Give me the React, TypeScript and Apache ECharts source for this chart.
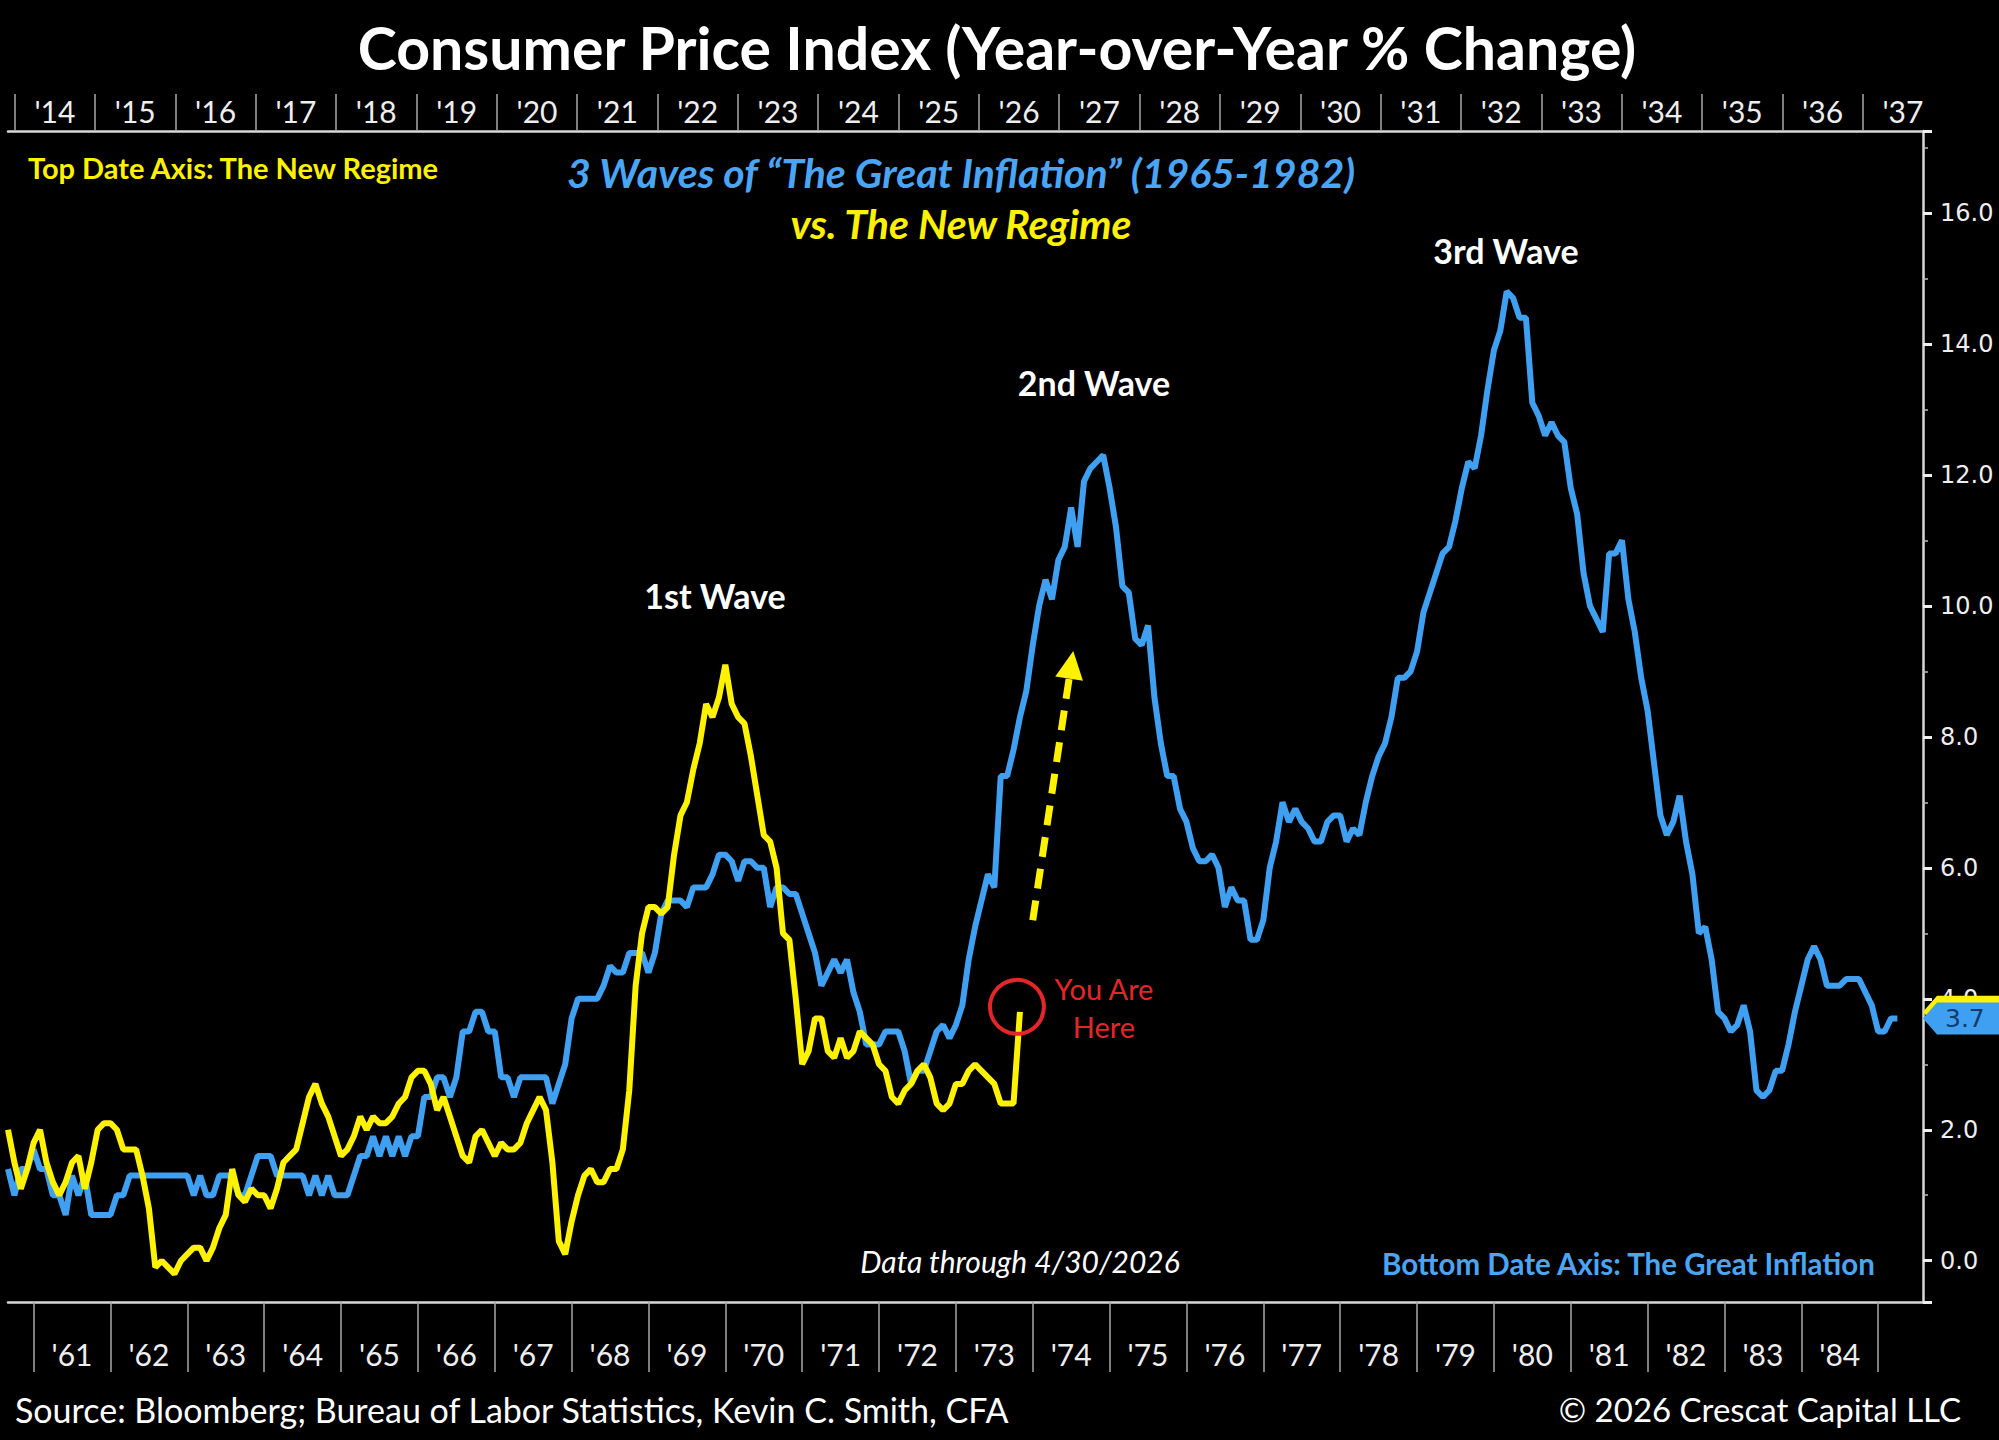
import React, { useEffect, useRef } from "react";
import * as echarts from "echarts";

// ---------- categories (months) ----------
function monthList(year: number, month: number, count: number): string[] {
  const out: string[] = [];
  for (let i = 0; i < count; i++) {
    const m = month - 1 + i;
    out.push(`${year + Math.floor(m / 12)}-${String((m % 12) + 1).padStart(2, "0")}`);
  }
  return out;
}
// bottom axis: The Great Inflation (Sep 1960 .. Aug 1985)
const bottomMonths = monthList(1960, 9, 300);
// top axis tick labels: The New Regime (Dec 2013 .. Oct 2037)
const topMonths = monthList(2013, 12, 287);
// hidden axis carrying the New Regime series (shifted 52y5m vs. bottom axis)
const regimeMonths = monthList(2013, 2, 300);

// ---------- data: CPI YoY % (Great Inflation, from Sep 1960) ----------
const inflation1960s = [
  1.4, 1.0, 1.4, 1.4,
  1.7, 1.4, 1.4, 1.0, 1.0, 0.7, 1.3, 1.0, 1.3, 0.7, 0.7, 0.7,
  0.7, 1.0, 1.0, 1.3, 1.3, 1.3, 1.3, 1.3, 1.3, 1.3, 1.3, 1.3,
  1.3, 1.0, 1.3, 1.0, 1.0, 1.3, 1.3, 1.3, 1.0, 1.0, 1.3, 1.6,
  1.6, 1.6, 1.3, 1.3, 1.3, 1.3, 1.3, 1.0, 1.3, 1.0, 1.3, 1.0,
  1.0, 1.0, 1.3, 1.6, 1.6, 1.9, 1.6, 1.9, 1.6, 1.9, 1.6, 1.9,
  1.9, 2.5, 2.5, 2.8, 2.8, 2.5, 2.8, 3.5, 3.5, 3.8, 3.8, 3.5,
  3.5, 2.8, 2.8, 2.5, 2.8, 2.8, 2.8, 2.8, 2.8, 2.4, 2.7, 3.0,
  3.7, 4.0, 4.0, 4.0, 4.0, 4.2, 4.5, 4.4, 4.4, 4.7, 4.7, 4.7,
  4.4, 4.7, 5.3, 5.5, 5.5, 5.5, 5.4, 5.7, 5.7, 5.7, 5.9, 6.2,
];
const inflation1970s = [
  6.2, 6.1, 5.8, 6.1, 6.1, 6.0, 6.0, 5.4, 5.7, 5.7, 5.6, 5.6,
  5.3, 5.0, 4.7, 4.2, 4.4, 4.6, 4.4, 4.6, 4.1, 3.8, 3.3, 3.3,
  3.3, 3.5, 3.5, 3.5, 3.2, 2.7, 2.9, 2.9, 3.2, 3.5, 3.6, 3.4,
  3.6, 3.9, 4.6, 5.1, 5.5, 5.9, 5.7, 7.4, 7.4, 7.8, 8.3, 8.7,
  9.4, 10.0, 10.4, 10.1, 10.7, 10.9, 11.5, 10.9, 11.9, 12.1, 12.2, 12.3,
  11.8, 11.2, 10.3, 10.2, 9.5, 9.4, 9.7, 8.6, 7.9, 7.4, 7.4, 6.9,
  6.7, 6.3, 6.1, 6.1, 6.2, 6.0, 5.4, 5.7, 5.5, 5.5, 4.9, 4.9,
  5.2, 6.0, 6.4, 7.0, 6.7, 6.9, 6.7, 6.6, 6.4, 6.4, 6.7, 6.8,
  6.8, 6.4, 6.6, 6.5, 7.0, 7.4, 7.7, 7.9, 8.3, 8.9, 8.9, 9.0,
  9.3, 9.9, 10.2, 10.5, 10.8, 10.9, 11.3, 11.8, 12.2, 12.1, 12.6, 13.3,
];
const inflation1980s = [
  13.9, 14.2, 14.8, 14.7, 14.4, 14.4, 13.1, 12.9, 12.6, 12.8, 12.6, 12.5,
  11.8, 11.4, 10.5, 10.0, 9.8, 9.6, 10.8, 10.8, 11.0, 10.1, 9.6, 8.9,
  8.4, 7.6, 6.8, 6.5, 6.7, 7.1, 6.4, 5.9, 5.0, 5.1, 4.6, 3.8,
  3.7, 3.5, 3.6, 3.9, 3.5, 2.6, 2.5, 2.6, 2.9, 2.9, 3.3, 3.8,
  4.2, 4.6, 4.8, 4.6, 4.2, 4.2, 4.2, 4.3, 4.3, 4.3, 4.1, 3.9,
  3.5, 3.5, 3.7, 3.7,
];
// ---------- data: CPI YoY % (New Regime, from Feb 2013) ----------
const regime2013to2019 = [
  2.0, 1.5, 1.1, 1.4, 1.8, 2.0, 1.5, 1.2, 1.0, 1.2, 1.5,
  1.6, 1.1, 1.5, 2.0, 2.1, 2.1, 2.0, 1.7, 1.7, 1.7, 1.3, 0.8,
  -0.1, 0.0, -0.1, -0.2, 0.0, 0.1, 0.2, 0.2, 0.0, 0.2, 0.5, 0.7,
  1.4, 1.0, 0.9, 1.1, 1.0, 1.0, 0.8, 1.1, 1.5, 1.6, 1.7, 2.1,
  2.5, 2.7, 2.4, 2.2, 1.9, 1.6, 1.7, 1.9, 2.2, 2.0, 2.2, 2.1,
  2.1, 2.2, 2.4, 2.5, 2.8, 2.9, 2.9, 2.7, 2.3, 2.5, 2.2, 1.9,
  1.6, 1.5, 1.9, 2.0, 1.8, 1.6, 1.8, 1.7, 1.7, 1.8, 2.1, 2.3,
];
const regime2020to2026 = [
  2.5, 2.3, 1.5, 0.3, 0.1, 0.6, 1.0, 1.3, 1.4, 1.2, 1.2, 1.4,
  1.4, 1.7, 2.6, 4.2, 5.0, 5.4, 5.4, 5.3, 5.4, 6.2, 6.8, 7.0,
  7.5, 7.9, 8.5, 8.3, 8.6, 9.1, 8.5, 8.3, 8.2, 7.7, 7.1, 6.5,
  6.4, 6.0, 5.0, 4.9, 4.0, 3.0, 3.2, 3.7, 3.7, 3.2, 3.1, 3.4,
  3.1, 3.2, 3.5, 3.4, 3.3, 3.0, 2.9, 2.5, 2.4, 2.6, 2.7, 2.9,
  3.0, 2.8, 2.4, 2.3, 2.4, 2.7, 2.7, 2.9, 3.0, 2.9, 2.8, 2.7,
  2.4, 2.4, 2.4, 3.8,
];
const greatInflation = [...inflation1960s, ...inflation1970s, ...inflation1980s];
const newRegime = [...regime2013to2019, ...regime2020to2026];

// arrow annotation (New Regime axis coordinates)
const arrowStart: [string, number] = ["2026-06", 5.2];
const arrowEnd: [string, number] = ["2026-12", 9.1];

const BLUE = "#3fa0f2";
const YELLOW = "#fff200";
const RED = "#e3262a";
const GRID = { left: 8, right: 76, top: 131, bottom: 138 };

const isJan = (_i: number, v: string) => v.endsWith("-01");
const labelAt = (count: number) => (i: number, v: string) => v.endsWith("-07") && i <= count - 4;
const yy = (v: string) => "'" + v.slice(2, 4);

function textEl(text: string, x: number, y: number, font: string, fill: string, align = "center") {
  return {
    type: "text",
    z: 50,
    style: {
      text, x, y, font, fill,
      align, textAlign: align,
      verticalAlign: "middle", textVerticalAlign: "middle",
    },
  };
}

export default function App() {
  const ref = useRef<HTMLDivElement>(null);
  useEffect(() => {
    document.body.style.margin = "0";
    document.body.style.background = "#000";
    const chart = echarts.init(ref.current!, null, { renderer: "svg" });
    const axisLabelBase = { color: "#eeeeee", fontSize: 30, fontFamily: "Lato" };
    chart.setOption({
      animation: false,
      backgroundColor: "#000",
      grid: { ...GRID, containLabel: false },
      xAxis: [
        {
          type: "category", position: "bottom", data: bottomMonths, boundaryGap: false,
          axisLine: { show: true, onZero: false, lineStyle: { color: "#d8d8d8", width: 2.5 } },
          axisTick: { show: true, interval: isJan, length: 70, lineStyle: { color: "#a8a8a8", width: 1.5 } },
          axisLabel: { ...axisLabelBase, interval: labelAt(bottomMonths.length), formatter: yy, margin: 37 },
          splitLine: { show: false },
        },
        {
          type: "category", position: "top", data: topMonths, boundaryGap: false,
          axisLine: { show: true, onZero: false, lineStyle: { color: "#d8d8d8", width: 2.5 } },
          axisTick: { show: true, interval: isJan, length: 37, lineStyle: { color: "#a8a8a8", width: 1.5 } },
          axisLabel: { ...axisLabelBase, interval: labelAt(topMonths.length), formatter: yy, margin: 5 },
          splitLine: { show: false },
        },
        {
          type: "category", position: "top", data: regimeMonths, boundaryGap: false, show: false,
          axisLine: { onZero: false },
        },
      ],
      yAxis: {
        type: "value", position: "right", min: -0.63, max: 17.25, splitNumber: 9,
        axisLine: { show: true, lineStyle: { color: "#d8d8d8", width: 2.5 } },
        axisTick: { show: true, length: 9, lineStyle: { color: "#eeeeee", width: 3 } },
        minorTick: { show: true, splitNumber: 2, length: 5, lineStyle: { color: "#bbbbbb", width: 1.5 } },
        axisLabel: {
          color: "#eeeeee", fontSize: 24, fontFamily: "DejaVu Sans", margin: 17,
          showMinLabel: false, showMaxLabel: false,
          formatter: (v: number) => {
            const r = Math.round(v);
            return Math.abs(v - r) < 1e-6 && r % 2 === 0 ? r.toFixed(1) : "";
          },
        },
        splitLine: { show: false },
      },
      series: [
        {
          type: "line", name: "The Great Inflation", xAxisIndex: 0, yAxisIndex: 0,
          data: greatInflation, showSymbol: false, z: 2,
          lineStyle: { color: BLUE, width: 6 }, itemStyle: { color: BLUE },
        },
        {
          type: "line", name: "The New Regime", xAxisIndex: 2, yAxisIndex: 0,
          data: newRegime, showSymbol: false, z: 3,
          lineStyle: { color: YELLOW, width: 6 }, itemStyle: { color: YELLOW },
          markPoint: {
            silent: true, symbol: "circle", symbolSize: 54, symbolOffset: [-3, -5],
            itemStyle: { color: "rgba(0,0,0,0)", borderColor: RED, borderWidth: 4 },
            label: { show: false },
            data: [{ coord: [regimeMonths[newRegime.length - 1], newRegime[newRegime.length - 1]] }],
          },
          markLine: {
            silent: true, animation: false, symbol: ["none", "triangle"], symbolSize: [28, 28],
            lineStyle: { color: YELLOW, width: 7, type: [20, 12] },
            label: { show: false },
            data: [[{ coord: arrowStart }, { coord: arrowEnd }]],
          },
        },
      ],
    });

    const axisX = chart.getWidth() - GRID.right;
    const W = chart.getWidth();
    const lastBlue = greatInflation[greatInflation.length - 1];
    const lastYellow = newRegime[newRegime.length - 1];
    const yb = chart.convertToPixel({ yAxisIndex: 0 }, lastBlue) as number;
    const yy2 = chart.convertToPixel({ yAxisIndex: 0 }, lastYellow) as number;
    const flag = (y: number, fill: string, z: number) => ({
      type: "polygon", z,
      shape: { points: [[axisX, y], [axisX + 14, y - 16], [W, y - 16], [W, y + 16], [axisX + 14, y + 16]] },
      style: { fill },
    });

    chart.setOption({
      graphic: [
        textEl("Consumer Price Index (Year-over-Year % Change)", 997, 47, "bold 59px Lato", "#ffffff"),
        textEl("Top Date Axis: The New Regime", 28, 167, "bold 29px Lato", YELLOW, "left"),
        textEl("3 Waves of \u201CThe Great Inflation\u201D (1965-1982)", 961, 172, "italic bold 41px Lato", "#4aa5f5"),
        textEl("vs. The New Regime", 961, 223, "italic bold 41px Lato", YELLOW),
        textEl("3rd Wave", 1506, 250, "bold 34px Lato", "#ffffff"),
        textEl("2nd Wave", 1094, 382, "bold 34px Lato", "#ffffff"),
        textEl("1st Wave", 715, 595, "bold 34px Lato", "#ffffff"),
        textEl("You Are", 1104, 988, "29px Lato", RED),
        textEl("Here", 1104, 1026, "29px Lato", RED),
        textEl("Data through 4/30/2026", 1020, 1261, "italic 30px Lato", "#ffffff"),
        textEl("Bottom Date Axis: The Great Inflation", 1382, 1263, "bold 29.5px Lato", "#4aa5f5", "left"),
        textEl("Source: Bloomberg; Bureau of Labor Statistics, Kevin C. Smith, CFA", 15, 1409, "34px Lato", "#ffffff", "left"),
        textEl("\u00A9 2026 Crescat Capital LLC", 1961, 1409, "33px Lato", "#ffffff", "right"),
        flag(yy2, YELLOW, 100),
        flag(yb, BLUE, 101),
        {
          type: "text", z: 102,
          style: {
            text: lastBlue.toFixed(1), x: axisX + 22, y: yb,
            font: "25px DejaVu Sans", fill: "#123a6b",
            align: "left", textAlign: "left", verticalAlign: "middle", textVerticalAlign: "middle",
          },
        },
      ],
    });
    return () => chart.dispose();
  }, []);
  return (
    <div
      ref={ref}
      style={{ position: "absolute", left: 0, top: 0, width: 1999, height: 1440, background: "#000" }}
    />
  );
}
